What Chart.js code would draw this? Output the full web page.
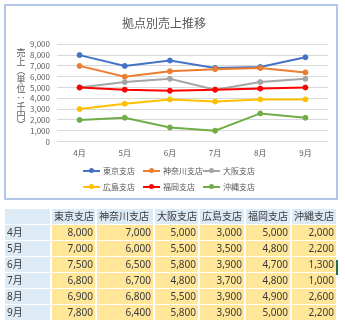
<!DOCTYPE html>
<html lang="ja">
<head>
<meta charset="utf-8">
<script src="https://cdn.jsdelivr.net/npm/chart.js@4/dist/chart.umd.min.js"></script>
<style>
  html, body { margin: 0; padding: 0; background: #fff; }
  body { width: 345px; height: 331px; position: relative; overflow: hidden; font-family: "Noto Sans CJK JP", sans-serif; }
  #frame { position: absolute; left: 4px; top: 4px; width: 334px; height: 196px; border: 2px solid #B4C7E7; box-sizing: border-box; }
  #grafico { position: absolute; left: 0; top: 0; }
  #ytitle { position: absolute; left: 16.5px; top: 48px; writing-mode: vertical-rl; font-size: 9px; line-height: 9px; color: #595959; white-space: nowrap; }
  #leyenda { position: absolute; left: 83px; top: 163px; display: grid; grid-template-columns: repeat(3, 60px); grid-auto-rows: 15.7px; align-items: center; }
  .item { display: flex; align-items: center; font-size: 8px; line-height: 1; color: #595959; white-space: nowrap; }
  .marca { position: relative; width: 17px; height: 2px; margin-right: 3px; }
  .marca i { position: absolute; left: 6px; top: -1.5px; width: 5px; height: 5px; border-radius: 50%; }
  #tabla { position: absolute; left: 3px; top: 208.3px; width: 335px; table-layout: fixed; border-collapse: separate; border-spacing: 2px 1.7px; font-family: "Noto Sans", "Noto Sans CJK JP", sans-serif; font-size: 10px; color: #3a3a3a; }
  #tabla td { box-sizing: border-box; height: 15px; line-height: 15px; padding: 0 2px; white-space: nowrap; overflow: hidden; }
  #tabla .cab { background: #DDEBF7; text-align: left; }
  #tabla .num { background: #FFE699; text-align: right; }
  #marcador { position: absolute; left: 336px; top: 260px; width: 2px; height: 15px; background: #217346; }
</style>
</head>
<body>
<div id="frame"></div>
<canvas id="grafico" width="345" height="200"></canvas>
<div id="ytitle"></div>
<div id="leyenda"></div>
<table id="tabla"></table>
<div id="marcador"></div>
<script>
// datos del grafico
const titulo = "拠点別売上推移";
const tituloEjeY = "売上（単位：千円）";
const meses = ["4月", "5月", "6月", "7月", "8月", "9月"];
const sucursales = ["東京支店", "神奈川支店", "大阪支店", "広島支店", "福岡支店", "沖縄支店"];
const colores = ["#4472C4", "#ED7D31", "#A5A5A5", "#FFC000", "#FF0000", "#70AD47"];

const tokyo = [8000, 7000, 7500, 6800, 6900, 7800];
const kanagawa = [7000, 6000, 6500, 6700, 6800, 6400];
const osaka = [5000, 5500, 5800, 4800, 5500, 5800];
const hiroshima = [3000, 3500, 3900, 3700, 3900, 3900];
const fukuoka = [5000, 4800, 4700, 4800, 4900, 5000];
const okinawa = [2000, 2200, 1300, 1000, 2600, 2200];
const series = [tokyo, kanagawa, osaka, hiroshima, fukuoka, okinawa];

// eje y: 0 a 9,000 cada 1,000
const yMin = 0;
const yMax = 9000;
const yPaso = 1000;

const fuente = "'Noto Sans CJK JP', sans-serif";
const gris = "#595959";

const formatNum = (v) => v.toLocaleString("en-US");

// titulo vertical del eje y
document.getElementById("ytitle").textContent = tituloEjeY;

// leyenda en html
const leyenda = document.getElementById("leyenda");
sucursales.forEach((nombre, i) => {
  const item = document.createElement("div");
  item.className = "item";
  item.innerHTML = `<span class="marca" style="background:${colores[i]}"><i style="background:${colores[i]}"></i></span><span>${nombre}</span>`;
  leyenda.appendChild(item);
});

// tabla de datos
const tabla = document.getElementById("tabla");
const anchos = [45, 43, 56, 43, 44, 44, 44];
let html = "<tr>";
html += `<td class="cab" style="width:${anchos[0]}px"></td>`;
sucursales.forEach((nombre, i) => {
  html += `<td class="cab" style="width:${anchos[i + 1]}px">${nombre}</td>`;
});
html += "</tr>";
meses.forEach((mes, m) => {
  html += `<tr><td class="cab">${mes}</td>`;
  series.forEach((serie) => {
    html += `<td class="num">${formatNum(serie[m])}</td>`;
  });
  html += "</tr>";
});
tabla.innerHTML = html;

// renderizacion del grafico
const canvas = document.getElementById("grafico");
const config = {
  type: "line",
  data: {
    labels: meses,
    datasets: sucursales.map((nombre, i) => ({
      label: nombre,
      data: series[i],
      borderColor: colores[i],
      backgroundColor: colores[i],
      pointBackgroundColor: colores[i],
      pointBorderColor: colores[i],
      borderWidth: 2,
      pointRadius: 2.5,
      pointBorderWidth: 1,
      tension: 0,
      order: sucursales.length - i,
    })),
  },
  options: {
    responsive: false,
    animation: false,
    devicePixelRatio: 1,
    layout: { padding: { left: 0, right: 17, top: 0, bottom: 38.5 } },
    plugins: {
      legend: { display: false },
      tooltip: { enabled: false },
      title: {
        display: true,
        text: titulo,
        color: gris,
        font: { family: fuente, size: 12, weight: "normal" },
        padding: { top: 15.8, bottom: 14.1 },
      },
    },
    scales: {
      x: {
        offset: true,
        grid: { display: false, drawTicks: false },
        border: { display: false },
        ticks: { color: gris, font: { family: fuente, size: 8 }, padding: 6.4, maxRotation: 0, autoSkip: false },
        afterFit: (scale) => { scale.height = 20; },
      },
      y: {
        min: yMin,
        max: yMax,
        border: { display: false },
        grid: { color: "#D9D9D9", lineWidth: 1, drawTicks: false },
        ticks: {
          stepSize: yPaso,
          autoSkip: false,
          color: gris,
          font: { family: fuente, size: 8 },
          padding: 7,
          callback: (v) => formatNum(v),
        },
        afterFit: (scale) => { scale.width = 57; },
      },
    },
  },
};
const myChart = new Chart(canvas, config);
</script>
</body>
</html>
